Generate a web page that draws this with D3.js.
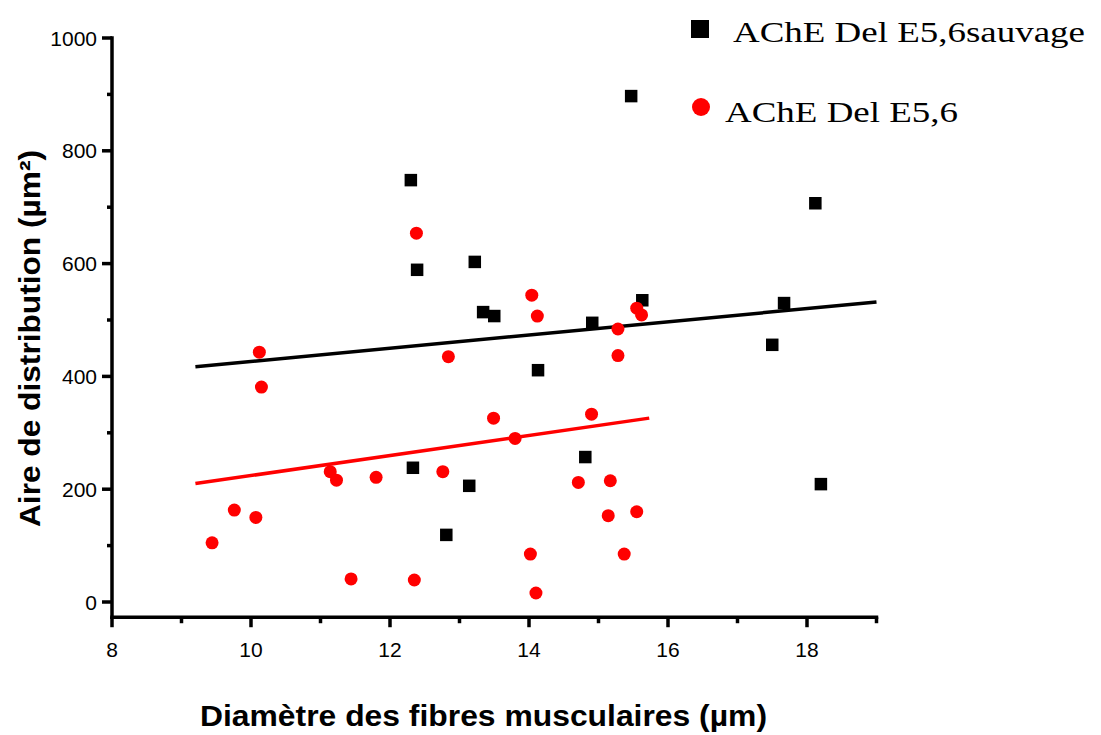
<!DOCTYPE html>
<html><head><meta charset="utf-8">
<script src="https://cdn.jsdelivr.net/npm/d3@7"></script>
<style>body{margin:0;background:#fff}svg{display:block}</style>
</head><body>
<svg id="c" width="1101" height="735"></svg>
<script>
// ---- data ----
const wildX = [12.30,12.39,13.22,13.34,13.50,14.13,12.33,13.14,12.81,14.91,14.81,15.47,15.63,17.50,17.67,18.12,18.20];
const wildY = [748,589,603,514,507,411,238,206,119,495,257,897,535,456,530,707,209];
const delX = [9.44,9.76,10.07,10.12,10.15,11.14,11.23,11.44,11.80,12.35,12.38,12.76,12.84,13.49,13.80,14.02,14.04,14.10,14.12,14.71,14.90,15.14,15.17,15.28,15.28,15.37,15.55,15.55,15.62];
const delY = [105,163,150,443,381,231,216,41,221,39,654,231,435,326,290,85,544,16,507,212,333,153,215,484,437,85,160,521,509];
const wildFitX = [9.2, 19.0];
const wildFitY = [417, 532];
const delFitX = [9.2, 15.73];
const delFitY = [210, 326];
const xTickLabels = ["8","10","12","14","16","18"];
const yTickLabels = ["0","200","400","600","800","1000"];
const seriesNames = ["AChE Del E5,6sauvage","AChE Del E5,6"];
const xTitle = "Diamètre des fibres musculaires (µm)";
const yTitle = "Aire de distribution (µm²)";

// ---- layout ----
const svg = d3.select("#c");
const x = d3.scaleLinear().domain([8,19]).range([112,876.5]);
const y = d3.scaleLinear().domain([0,1000]).range([602,38]);
const yBottom = -27; // axis extends below 0
const axisY = y(yBottom);
const sans = "Liberation Sans, Arial, sans-serif";
const serif = "Liberation Serif, Times New Roman, serif";

const g = svg.append("g");
g.append("line").attr("x1",x(8)).attr("x2",x(19)).attr("y1",axisY).attr("y2",axisY)
  .attr("stroke","#000").attr("stroke-width",3.5).attr("stroke-linecap","square");
g.append("line").attr("x1",x(8)).attr("x2",x(8)).attr("y1",axisY).attr("y2",y(1000))
  .attr("stroke","#000").attr("stroke-width",3.5).attr("stroke-linecap","square");

// x ticks
const xMajor = xTickLabels.map(Number);
const xMinor = d3.range(9,20,2);
g.selectAll(".xmaj").data(xMajor).join("line")
  .attr("x1",d=>x(d)).attr("x2",d=>x(d)).attr("y1",axisY).attr("y2",axisY+10)
  .attr("stroke","#000").attr("stroke-width",3.5);
g.selectAll(".xmin").data(xMinor).join("line")
  .attr("x1",d=>x(d)).attr("x2",d=>x(d)).attr("y1",axisY).attr("y2",axisY+6)
  .attr("stroke","#000").attr("stroke-width",3.5);
g.selectAll(".xl").data(xTickLabels).join("text")
  .attr("x",d=>x(+d)).attr("y",657).attr("text-anchor","middle")
  .attr("font-family",sans).attr("font-size",21).text(d=>d);

// y ticks
const yMajor = yTickLabels.map(Number);
const yMinor = d3.range(100,1000,200);
g.selectAll(".ymaj").data(yMajor).join("line")
  .attr("x1",x(8)-10).attr("x2",x(8)).attr("y1",d=>y(d)).attr("y2",d=>y(d))
  .attr("stroke","#000").attr("stroke-width",3.5);
g.selectAll(".ymin").data(yMinor).join("line")
  .attr("x1",x(8)-5).attr("x2",x(8)).attr("y1",d=>y(d)).attr("y2",d=>y(d))
  .attr("stroke","#000").attr("stroke-width",3.5);
g.selectAll(".yl").data(yTickLabels).join("text")
  .attr("x",97).attr("y",d=>y(+d)+7.5).attr("text-anchor","end")
  .attr("font-family",sans).attr("font-size",21).text(d=>d);

// titles
svg.append("text").attr("x",483.5).attr("y",726).attr("text-anchor","middle")
  .attr("font-family",sans).attr("font-weight","bold").attr("font-size",29.5)
  .attr("textLength",567).attr("lengthAdjust","spacingAndGlyphs").text(xTitle);
svg.append("text").attr("transform","translate(40,338.5) rotate(-90)").attr("text-anchor","middle")
  .attr("font-family",sans).attr("font-weight","bold").attr("font-size",29)
  .attr("textLength",377).attr("lengthAdjust","spacingAndGlyphs").text(yTitle);

// fit lines
const line = d3.line().x(d=>x(d[0])).y(d=>y(d[1]));
svg.append("path").attr("d",line(wildFitX.map((v,i)=>[v,wildFitY[i]])))
  .attr("stroke","#000").attr("stroke-width",3.5).attr("fill","none");
svg.append("path").attr("d",line(delFitX.map((v,i)=>[v,delFitY[i]])))
  .attr("stroke","#ff0000").attr("stroke-width",3.5).attr("fill","none");

// points
const sq = 12.5;
svg.selectAll(".w").data(wildX.map((v,i)=>[v,wildY[i]])).join("rect")
  .attr("x",d=>x(d[0])-sq/2).attr("y",d=>y(d[1])-sq/2).attr("width",sq).attr("height",sq)
  .attr("fill","#000");
svg.selectAll(".d").data(delX.map((v,i)=>[v,delY[i]])).join("circle")
  .attr("cx",d=>x(d[0])).attr("cy",d=>y(d[1])).attr("r",6.5).attr("fill","#ff0000");

// legend
svg.append("rect").attr("x",691).attr("y",20).attr("width",18).attr("height",18).attr("fill","#000");
svg.append("text").attr("x",733).attr("y",42).attr("font-family",serif)
  .attr("font-size",30).attr("textLength",352).attr("lengthAdjust","spacingAndGlyphs").text(seriesNames[0]);
svg.append("circle").attr("cx",701).attr("cy",107).attr("r",9).attr("fill","#ff0000");
svg.append("text").attr("x",725).attr("y",122).attr("font-family",serif)
  .attr("font-size",30).attr("textLength",233).attr("lengthAdjust","spacingAndGlyphs").text(seriesNames[1]);
</script>
</body></html>
